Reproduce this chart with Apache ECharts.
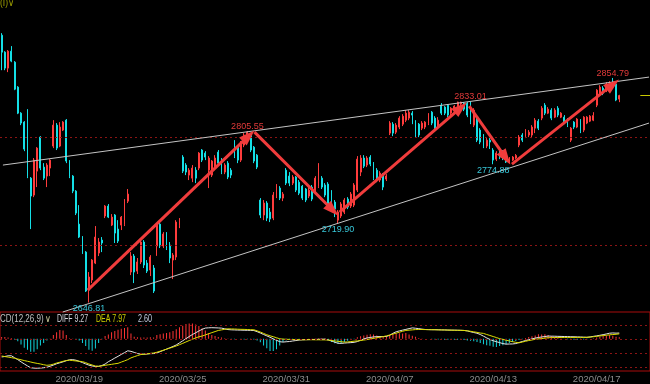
<!DOCTYPE html>
<html><head><meta charset="utf-8">
<script src="https://cdn.jsdelivr.net/npm/echarts@6/dist/echarts.min.js"></script>
<style>html,body{margin:0;padding:0;background:#000;overflow:hidden}#c{width:650px;height:384px}</style>
</head><body><div id="c"></div>
<script>
// ---------- data ----------
const tradingDays = ['2020/03/16','2020/03/17','2020/03/18','2020/03/19','2020/03/20','2020/03/23','2020/03/24','2020/03/25','2020/03/26','2020/03/27','2020/03/30','2020/03/31','2020/04/01','2020/04/02','2020/04/03','2020/04/07','2020/04/08','2020/04/09','2020/04/10','2020/04/13','2020/04/14','2020/04/15','2020/04/16','2020/04/17'];
const barTimes = ['10:00','10:30','11:00','11:30','13:30','14:00','14:30','15:00'];
const dateTickLabels = ['2020/03/19','2020/03/25','2020/03/31','2020/04/07','2020/04/13','2020/04/17'];

const opens = [
2894.4,2878.7,2863.9,2879.6,2869.4,2846.3,2822.2,2813.9,
2797.2,2762.0,2746.3,2768.5,2800.0,2772.2,2763.9,2771.3,
2791.7,2811.1,2791.7,2806.5,2815.7,2777.8,2763.9,2750.0,
2719.4,2707.4,2693.5,2658.3,2667.6,2683.3,2692.6,2704.6,
2726.9,2736.1,2718.5,2727.8,2714.8,2718.5,2719.4,2740.7,
2675.0,2689.8,2675.9,2684.3,2702.8,2683.3,2676.9,2678.7,
2699.1,2719.4,2699.1,2711.1,2700.0,2686.1,2688.9,2718.5,
2781.5,2774.1,2764.8,2762.0,2769.4,2771.3,2788.0,2785.2,
2769.4,2764.8,2771.3,2786.1,2778.7,2767.6,2775.9,2769.4,
2795.4,2790.7,2778.7,2792.6,2799.1,2802.8,2790.7,2783.3,
2741.7,2727.8,2738.9,2730.5,2725.0,2745.4,2752.8,2743.5,
2769.4,2763.9,2757.4,2763.0,2758.3,2754.6,2751.9,2745.4,
2753.7,2750.9,2754.6,2762.0,2755.6,2756.5,2749.1,2739.8,
2723.1,2726.9,2730.5,2742.6,2736.1,2737.0,2750.9,2767.6,
2780.6,2774.1,2781.5,2775.9,2769.4,2760.2,2764.8,2761.1,
2803.7,2812.0,2804.6,2809.3,2812.0,2815.7,2817.6,2822.2,
2813.9,2812.0,2808.3,2809.3,2813.0,2823.1,2817.6,2809.3,
2829.6,2827.8,2829.6,2822.2,2825.0,2828.7,2830.6,2831.5,
2831.5,2823.1,2811.1,2817.6,2806.5,2800.9,2791.7,2797.2,
2788.0,2779.6,2788.0,2786.1,2783.3,2776.9,2778.7,2780.6,
2792.6,2801.9,2800.9,2801.9,2801.9,2808.3,2814.8,2817.6,
2829.6,2822.2,2825.0,2818.5,2826.8,2818.5,2818.5,2815.7,
2797.2,2813.9,2809.3,2815.7,2806.5,2813.0,2814.8,2815.7,
2829.6,2838.9,2845.4,2843.5,2843.5,2850.9,2849.1,2835.2];

const closes = [
2878.7,2863.9,2879.6,2870.4,2844.4,2822.2,2813.0,2788.9,
2763.9,2745.4,2778.7,2789.8,2771.3,2762.0,2774.1,2778.7,
2811.1,2789.8,2809.3,2813.9,2777.8,2763.9,2750.0,2729.6,
2707.4,2692.6,2657.4,2670.4,2686.1,2707.4,2702.8,2701.9,
2736.1,2725.9,2725.9,2711.1,2703.7,2725.9,2740.7,2747.2,
2689.8,2675.0,2684.3,2702.8,2681.5,2675.9,2688.9,2657.4,
2718.5,2699.1,2710.2,2697.2,2688.0,2690.7,2721.3,2723.1,
2768.5,2767.6,2769.4,2771.3,2762.0,2785.2,2778.7,2781.5,
2780.6,2777.8,2780.6,2775.9,2767.6,2774.1,2763.0,2764.8,
2782.4,2778.7,2794.4,2801.9,2804.6,2788.0,2777.8,2772.2,
2727.8,2738.9,2725.0,2724.1,2746.3,2752.8,2743.5,2747.2,
2757.4,2757.4,2763.0,2750.9,2748.1,2743.5,2741.7,2750.9,
2742.6,2762.0,2772.2,2753.7,2746.3,2737.0,2737.0,2733.3,
2730.5,2738.0,2741.7,2735.2,2747.2,2755.6,2779.6,2780.6,
2773.1,2780.6,2775.0,2762.0,2760.2,2766.7,2753.7,2764.0,
2813.0,2803.7,2811.1,2817.6,2819.4,2822.2,2823.1,2820.4,
2802.8,2801.9,2813.0,2813.9,2820.4,2813.0,2808.3,2815.7,
2822.2,2822.2,2820.4,2826.8,2828.7,2832.4,2832.4,2825.9,
2820.4,2813.9,2825.0,2797.2,2795.4,2791.7,2797.2,2795.4,
2778.7,2785.2,2781.5,2780.6,2776.9,2779.6,2781.5,2783.0,
2800.0,2797.2,2806.5,2804.6,2809.3,2815.7,2808.3,2826.8,
2822.2,2825.9,2817.6,2825.0,2820.4,2822.2,2813.0,2811.1,
2808.3,2809.3,2816.7,2805.6,2818.5,2818.5,2819.4,2819.9,
2843.5,2846.3,2840.7,2849.1,2850.0,2848.1,2834.3,2838.49];

const lows = [
2862.0,2862.0,2860.2,2869.4,2843.5,2821.3,2811.1,2787.0,
2762.0,2714.8,2744.4,2753.7,2769.4,2760.2,2753.7,2763.9,
2789.8,2788.0,2790.7,2805.6,2775.9,2762.0,2748.1,2727.8,
2706.5,2691.7,2656.5,2646.81,2664.8,2682.4,2689.8,2693.5,
2725.0,2725.0,2717.6,2701.9,2701.9,2713.9,2717.6,2738.9,
2672.2,2664.8,2673.2,2682.4,2678.7,2674.1,2671.3,2655.6,
2690.0,2697.2,2697.2,2695.4,2683.3,2668.5,2686.1,2715.7,
2766.7,2764.8,2760.2,2758.3,2757.4,2769.4,2776.9,2778.7,
2752.8,2763.0,2769.4,2774.1,2765.7,2765.7,2761.1,2762.0,
2780.6,2775.9,2776.9,2790.7,2797.2,2786.1,2775.9,2770.4,
2725.0,2723.1,2722.2,2721.3,2723.1,2743.5,2741.7,2740.7,
2755.6,2754.6,2755.6,2749.1,2746.3,2741.7,2739.8,2743.5,
2740.7,2749.1,2752.8,2751.9,2744.4,2735.2,2735.2,2725.9,
2719.90,2725.0,2728.7,2733.3,2734.3,2735.2,2749.1,2763.9,
2771.3,2772.2,2773.1,2760.2,2758.3,2758.3,2750.9,2759.3,
2801.9,2800.9,2802.8,2807.4,2810.2,2813.9,2815.7,2812.0,
2800.0,2800.0,2806.5,2807.4,2811.1,2811.1,2806.5,2807.4,
2820.4,2820.4,2818.5,2820.4,2823.1,2826.8,2828.7,2824.1,
2818.5,2812.0,2809.3,2795.4,2793.5,2789.8,2789.8,2789.0,
2774.88,2777.8,2779.6,2778.7,2776.0,2775.9,2777.8,2779.6,
2790.7,2795.4,2799.1,2800.0,2799.1,2803.7,2806.5,2815.7,
2820.4,2821.3,2815.7,2817.6,2818.5,2817.6,2812.0,2809.3,
2795.4,2807.4,2808.3,2803.7,2804.6,2812.0,2813.9,2814.8,
2827.8,2837.9,2838.9,2841.7,2842.6,2846.3,2833.3,2832.4];

const highs = [
2896.3,2879.6,2880.6,2884.3,2870.4,2847.2,2823.1,2814.8,
2825.9,2763.0,2780.6,2790.7,2800.9,2775.9,2775.9,2779.6,
2815.7,2813.0,2813.9,2814.8,2816.7,2778.7,2764.8,2750.9,
2737.0,2708.3,2694.4,2675.0,2687.0,2717.6,2706.5,2707.4,
2737.0,2738.0,2728.7,2728.7,2723.1,2726.9,2742.6,2751.9,
2693.5,2691.7,2688.0,2704.6,2704.6,2686.1,2690.7,2681.5,
2720.4,2720.4,2712.0,2712.0,2702.8,2692.6,2723.1,2725.0,
2783.3,2775.9,2771.3,2774.1,2772.2,2786.1,2788.9,2787.0,
2782.4,2778.7,2783.3,2788.0,2780.6,2775.9,2777.8,2771.3,
2797.2,2792.6,2796.3,2803.7,2805.55,2803.7,2791.7,2784.3,
2743.5,2741.7,2740.7,2734.3,2749.1,2756.5,2754.6,2749.1,
2771.3,2767.6,2764.8,2763.9,2760.2,2755.6,2752.8,2753.7,
2755.6,2763.9,2775.9,2763.9,2757.4,2758.3,2750.9,2741.7,
2732.4,2739.8,2743.5,2744.4,2749.1,2757.4,2782.4,2783.3,
2783.3,2782.4,2783.3,2776.9,2771.3,2768.5,2766.7,2765.7,
2814.8,2813.9,2813.0,2819.4,2821.3,2825.0,2825.0,2824.1,
2815.7,2813.0,2814.8,2814.8,2822.2,2824.1,2819.4,2818.5,
2831.5,2828.7,2830.6,2827.8,2829.6,2832.8,2832.8,2832.4,
2832.4,2833.01,2826.8,2819.4,2808.3,2802.8,2799.1,2799.1,
2789.8,2787.0,2789.8,2788.0,2785.2,2781.5,2782.4,2784.3,
2801.9,2803.7,2807.4,2806.5,2811.1,2817.6,2816.7,2828.7,
2831.5,2827.8,2826.8,2826.8,2828.7,2823.1,2820.4,2817.6,
2809.3,2814.8,2817.6,2816.7,2819.4,2819.4,2820.4,2823.1,
2844.4,2848.1,2847.2,2850.9,2851.8,2854.79,2851.2,2839.2];

const diffValues = [
-28.8,-28.1,-27.0,-26.9,-30.0,-33.1,-36.6,-39.9,
-43.1,-46.0,-46.6,-46.8,-46.5,-46.0,-45.2,-43.6,
-41.8,-39.7,-38.2,-36.6,-34.8,-33.3,-33.1,-34.0,
-35.8,-37.8,-39.9,-41.9,-43.2,-44.0,-43.8,-42.5,
-40.1,-36.4,-33.6,-30.6,-27.8,-24.8,-21.9,-19.0,
-19.9,-21.6,-23.4,-24.2,-24.4,-24.0,-23.6,-23.4,
-22.5,-20.4,-18.4,-16.3,-14.2,-12.1,-9.7,-6.4,
-3.1,0.3,3.7,6.9,9.7,12.5,15.2,17.2,
17.6,17.8,17.6,17.4,17.1,16.0,14.8,14.4,
14.2,14.0,13.9,13.7,13.6,13.5,13.3,11.5,
9.3,7.0,4.8,2.5,0.1,-2.2,-4.5,-5.1,
-4.6,-4.2,-3.4,-2.7,-1.9,-1.5,-1.3,-1.2,
-1.0,-0.9,-0.7,-0.6,-0.4,-1.8,-3.4,-5.2,
-7.0,-7.2,-6.7,-6.3,-6.0,-5.5,-4.3,-2.2,
-0.1,1.5,2.2,3.1,3.5,3.7,3.6,3.8,
5.8,8.8,11.3,12.7,13.9,15.1,16.3,17.5,
16.9,16.3,15.5,14.9,14.8,14.6,14.6,14.5,
14.3,14.2,14.0,13.9,13.9,13.7,13.6,13.4,
12.7,11.3,10.1,9.0,7.0,4.3,1.6,-1.0,
-3.0,-4.5,-6.0,-7.5,-8.4,-8.2,-8.1,-7.5,
-5.8,-4.2,-2.7,-1.3,-0.1,1.2,2.2,3.0,
3.7,4.5,4.3,4.2,4.0,3.9,3.7,3.6,
3.4,3.3,3.1,3.0,2.7,2.5,3.1,4.0,
4.8,5.7,6.7,7.8,9.0,9.4,9.1,9.27];

const deaValues = [
-27.3,-28.2,-29.0,-29.9,-30.9,-32.1,-33.3,-34.6,
-35.7,-36.9,-38.1,-39.1,-40.0,-41.2,-42.1,-41.6,
-40.3,-38.5,-37.2,-35.7,-34.5,-34.0,-34.6,-35.2,
-35.7,-36.3,-37.9,-40.0,-41.6,-43.3,-43.7,-43.0,
-42.1,-41.3,-40.6,-39.7,-39.0,-37.0,-35.1,-33.1,
-30.3,-28.4,-26.7,-25.1,-24.5,-23.9,-23.1,-22.5,
-21.3,-19.7,-18.1,-16.4,-14.8,-13.1,-11.3,-9.3,
-7.2,-4.9,-2.7,-0.6,1.5,3.3,4.5,6.3,
8.1,9.9,11.6,13.4,14.3,15.2,16.0,15.8,
15.7,15.4,15.2,15.1,14.9,14.6,14.5,12.8,
10.9,8.7,6.6,4.9,3.4,1.8,0.1,-0.4,
-0.7,-0.9,-1.0,-1.2,-1.3,-1.5,-1.4,-1.3,
-1.4,-1.5,-1.5,-1.6,-1.6,-1.9,-2.5,-3.3,
-3.9,-4.5,-5.1,-4.9,-4.3,-3.7,-3.3,-2.7,
-1.9,-1.2,-0.1,0.7,1.8,2.7,3.6,4.8,
6.1,7.6,9.1,10.6,12.1,13.4,13.9,14.3,
14.8,14.9,14.9,14.8,14.6,14.6,14.5,14.3,
14.2,14.2,14.0,13.9,13.7,13.7,13.6,13.4,
12.8,12.1,11.2,10.4,9.3,8.7,7.0,5.4,
3.7,2.1,0.3,-0.9,-2.1,-3.3,-4.5,-5.5,
-6.3,-5.1,-3.9,-2.7,-1.8,-0.7,-0.1,0.4,
1.2,1.8,2.0,2.1,2.1,2.2,2.2,2.2,
2.2,2.3,2.3,2.3,2.3,2.4,2.8,3.4,
4.0,4.6,5.2,5.8,6.4,6.9,7.3,7.97];

const macdValues = [
3,3,2,1.5,-1,-4,-9,-14,
-17.5,-20.5,-20.5,-16.5,-10.5,-6.5,-2.5,0.5,
6,10.5,14,13.5,6,1,0.5,-0.5,
-2.5,-6.5,-11.5,-17.5,-19,-15.5,-6.5,-0.5,
4.5,7,10.5,12.5,14.5,16,17.5,18.5,
8.5,3.5,2.5,2,2,2,2.5,2,
6,7.5,8.5,9.5,10.5,12.5,15.5,18.5,
21,23.5,24.5,24.5,23,20.5,17,13.5,
9.5,6,4.5,3,2,1,0.5,-0.5,
-0.5,0.3,-0.5,-1,-0.5,-1,-1,-2.5,
-5.5,-10.5,-15,-19.5,-19.5,-16.5,-10.5,-5,
-2.5,-1.5,-1,-0.5,-0.5,0.2,0.2,0.5,
0.5,0.5,1,1,0.5,-2,-5,-7,
-7.5,-7,-5,-3,-1.5,-0.5,2.5,4,
5.5,6.5,7.5,7,5.5,4.5,3.5,4,
6,8,9,9,8.5,9.5,7,5,
3.5,1.5,0.5,0.2,0.2,-0.5,-1,-1,
-1.5,-1.5,-1.5,-1.5,-1.5,-1.5,-1.5,-2,
-2.5,-3,-4,-5,-6.5,-8.5,-10,-11,
-12.5,-13,-11.5,-10,-8.5,-6.5,-5,-3.5,
-2,-0.5,1.5,3,4,5.5,7.5,7,
7.5,6,4.5,3.5,2,0.5,0.2,-0.5,
-1,-1.5,-1.5,-1.5,-1,-0.5,0.2,1,
2,3.5,4.5,5.5,6,5,3.5,2.6];

// annotated pivots (bar index, price)
const extremes = [
  {bar:27, price:2646.81, kind:'low'},
  {bar:76, price:2805.55, kind:'high'},
  {bar:104, price:2719.90, kind:'low'},
  {bar:145, price:2833.01, kind:'high'},
  {bar:152, price:2774.88, kind:'low'},
  {bar:189, price:2854.79, kind:'high'}
];
// hand drawn trend lines and arrows, in (bar index, price)
const trendLines = [
  [[0.4, 2774.1], [200.2, 2855.6]],
  [[18.9, 2638.0], [200.2, 2813.0]]
];
const arrows = [
  [[26.6, 2658.3], [76.4, 2801.1]],
  [[78.2, 2804.6], [102.4, 2732.3]],
  [[104.5, 2730.6], [142.0, 2827.3]],
  [[144.6, 2828.7], [155.9, 2780.7]],
  [[157.8, 2775.0], [189.0, 2848.8]]
];
const priceLevels = [2700, 2800];
const macdLevels = [22.4, 0, -22.4, -44.8];

// ---------- chart ----------
const N_SLOTS = 201;
const categories = [];
tradingDays.forEach(d => barTimes.forEach(t => categories.push(d + ' ' + t)));
while (categories.length < N_SLOTS) categories.push('pad' + categories.length);
const candleData = opens.map((o, i) => [o, closes[i], lows[i], highs[i]]);
const labelBars = dateTickLabels.map(d => tradingDays.indexOf(d) * barTimes.length);
const lastClose = closes[closes.length - 1];
const lastBar = closes.length - 1;

const UP = '#ff3c3c', DOWN = '#14dfe6';
const FONT = '"Liberation Sans", Arial, sans-serif';
const SLOT = 3.253, LEFT = -3;
const GRID_W = N_SLOTS * SLOT;

const hdr = (text, x, fill, sx) => ({type: 'text', x: x, y: 319, scaleX: sx, scaleY: 1,
  style: {text: text, fill: fill, font: '10px ' + FONT, verticalAlign: 'middle'}});

const chart = echarts.init(document.getElementById('c'));
const option = {
  backgroundColor: '#000',
  animation: false,
  grid: [
    {left: LEFT, top: 0, width: GRID_W, height: 312, show: false},
    {left: LEFT, top: 312, width: GRID_W, height: 63, show: true, borderColor: '#a80c0c', borderWidth: 1, backgroundColor: 'transparent'}
  ],
  xAxis: [
    {type: 'category', gridIndex: 0, data: categories, boundaryGap: true, show: false},
    {type: 'category', gridIndex: 1, data: categories, boundaryGap: true,
      axisLine: {show: false}, axisTick: {show: false}, splitLine: {show: false},
      axisLabel: {show: true, interval: (i) => labelBars.includes(i), formatter: (v) => v.split(' ')[0],
        color: '#8c8c8c', fontSize: 9.5, fontFamily: FONT, margin: 3, hideOverlap: false}},
    {type: 'value', gridIndex: 0, min: -0.5, max: N_SLOTS - 0.5, show: false}
  ],
  yAxis: [
    {type: 'value', gridIndex: 0, min: 2638, max: 2927, show: false, splitLine: {show: false}},
    {type: 'value', gridIndex: 1, min: -51.2, max: 42.8, show: false, splitLine: {show: false}}
  ],
  graphic: [
    {type: 'text', x: 0, y: -2, scaleX: 0.85, style: {text: '(I)\u2228', fill: '#a0a000', font: '10px ' + FONT}},
    hdr('CD(12,26,9)', 0, '#c0c0c0', 0.8),
    hdr('\u2228', 45, '#d0d0a0', 0.8),
    hdr('DIFF ' + diffValues[lastBar].toFixed(2), 57, '#d4d4dc', 0.7),
    hdr('DEA ' + deaValues[lastBar].toFixed(2), 96, '#d0d000', 0.7),
    hdr(macdValues[lastBar].toFixed(2), 138, '#c4cce0', 0.72)
  ],
  series: [
    {
      type: 'candlestick', xAxisIndex: 0, yAxisIndex: 0, data: candleData, silent: true,
      barWidth: 1.4,
      itemStyle: {color: UP, color0: DOWN, borderColor: UP, borderColor0: DOWN, borderWidth: 1},
      markLine: {silent: true, symbol: ['none', 'none'], label: {show: false},
        lineStyle: {color: '#8c1414', type: [2, 3], width: 1},
        data: priceLevels.map(v => ({yAxis: v}))}
    },
    {
      type: 'line', xAxisIndex: 2, yAxisIndex: 0, data: [], silent: true,
      markLine: {silent: true, symbol: ['none', 'none'], label: {show: false},
        lineStyle: {color: '#c4c4c4', width: 1, type: 'solid'},
        data: trendLines.map(([a, b]) => [{coord: a}, {coord: b}])},
      markPoint: {silent: true, symbol: 'circle', symbolSize: 0,
        label: {show: true, position: 'inside', fontSize: 9, fontFamily: FONT, formatter: '{c}'},
        data: extremes.map(e => ({coord: [e.bar, e.price], value: e.price.toFixed(2),
          label: {color: e.kind === 'high' ? '#e23a3a' : '#38c8da', offset: [0, e.kind === 'high' ? -4.5 : 6]}}))}
    },
    {
      type: 'line', xAxisIndex: 2, yAxisIndex: 0, data: [], silent: true,
      markLine: {silent: true, label: {show: false},
        lineStyle: {color: '#f03c3c', width: 3, type: 'solid'},
        data: arrows.map(([a, b]) => [{coord: a, symbol: 'none'}, {coord: b, symbol: 'triangle', symbolSize: [11, 16]}])}
    },
    {
      type: 'line', xAxisIndex: 2, yAxisIndex: 0, data: [], silent: true,
      markLine: {silent: true, symbol: ['none', 'none'], label: {show: false},
        lineStyle: {color: '#c8c800', width: 1, type: 'solid'},
        data: [[{coord: [lastBar + 6.5, lastClose]}, {coord: [N_SLOTS - 0.5, lastClose]}]]}
    },
    {
      type: 'bar', xAxisIndex: 1, yAxisIndex: 1, data: macdValues, silent: true, barWidth: 1,
      itemStyle: {color: (p) => p.value >= 0 ? '#ff3434' : '#10d4dc'},
      markLine: {silent: true, symbol: ['none', 'none'], label: {show: false},
        lineStyle: {color: '#8c1414', type: [2, 3], width: 1},
        data: macdLevels.map(v => ({yAxis: v}))}
    },
    {type: 'line', xAxisIndex: 1, yAxisIndex: 1, data: diffValues, silent: true, symbol: 'none',
      lineStyle: {color: '#e4e4e4', width: 1}},
    {type: 'line', xAxisIndex: 1, yAxisIndex: 1, data: deaValues, silent: true, symbol: 'none',
      lineStyle: {color: '#dcdc00', width: 1}}
  ]
};
chart.setOption(option);
</script>
</body></html>
